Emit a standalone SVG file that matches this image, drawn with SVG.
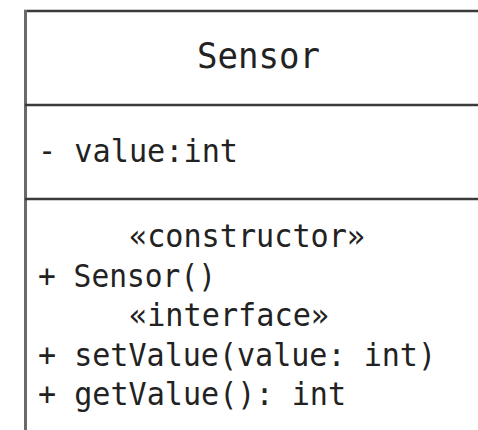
<svg xmlns="http://www.w3.org/2000/svg" width="478" height="430" viewBox="0 0 478 430">
<style>
.t{font-family:"DejaVu Sans Mono","Liberation Mono",monospace;font-size:32px;fill:#222}
.h{font-family:"DejaVu Sans Mono","Liberation Mono",monospace;font-size:35px;fill:#222}
.ln{stroke:#3a3a3a;stroke-width:2.5;fill:none}
.lv{stroke:#6a6a6a;stroke-width:3;fill:none}
</style>
<rect width="478" height="430" fill="#fff"/>
<g id="Sensor">
<line class="ln" x1="24" y1="11" x2="478" y2="11"/>
<line class="lv" x1="25.5" y1="10" x2="25.5" y2="430"/>
<line class="ln" x1="25" y1="105" x2="478" y2="105"/>
<line class="ln" x1="25" y1="199" x2="478" y2="199"/>
<text class="h" x="258.5" y="68" text-anchor="middle" textLength="123" lengthAdjust="spacingAndGlyphs">Sensor</text>
<text class="t" x="38" y="162" textLength="200" lengthAdjust="spacingAndGlyphs">- value:int</text>
<text class="t" x="129" y="247" textLength="236" lengthAdjust="spacingAndGlyphs">«constructor»</text>
<text class="t" x="38" y="287" textLength="178" lengthAdjust="spacingAndGlyphs">+ Sensor()</text>
<text class="t" x="129" y="326" textLength="200" lengthAdjust="spacingAndGlyphs">«interface»</text>
<text class="t" x="38" y="366" textLength="398" lengthAdjust="spacingAndGlyphs">+ setValue(value: int)</text>
<text class="t" x="38" y="405" textLength="308" lengthAdjust="spacingAndGlyphs">+ getValue(): int</text>
</g>
</svg>
